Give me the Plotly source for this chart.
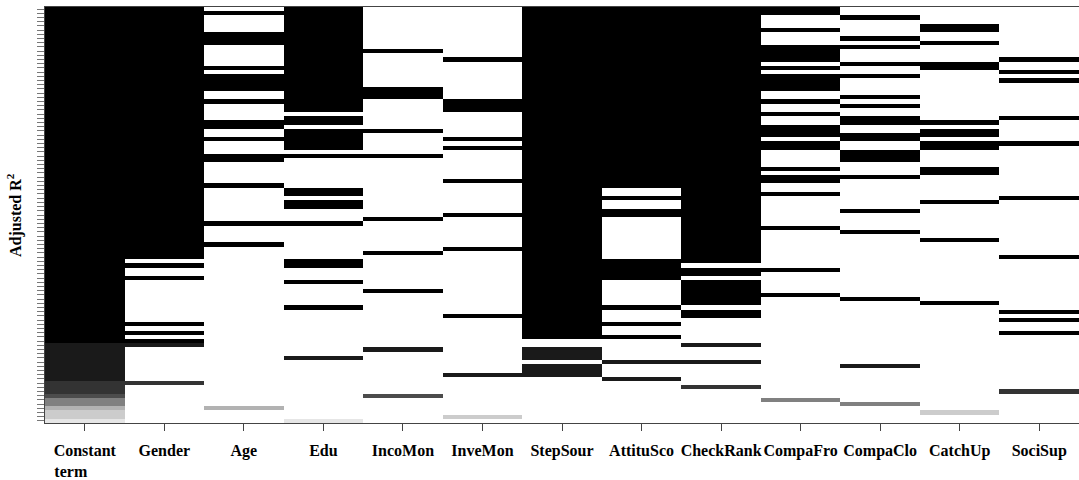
import numpy as np
import plotly.graph_objects as go

# Variables (columns) of the regsubsets plot
variables = ["Constant term", "Gender", "Age", "Edu", "IncoMon", "InveMon", "StepSour",
             "AttituSco", "CheckRank", "CompaFro", "CompaClo", "CatchUp", "SociSup"]

n_models = 99  # rows, ordered by adjusted R^2 (row 0 = highest, at top)

# Gray level of each model row (index into gray(0, .1, ..., .9)), read as runs from top to bottom
row_level_runs = [(0, 80), (1, 9), (2, 3), (3, 1), (5, 2), (7, 1), (8, 2), (9, 1)]

# Rows (from top) in which each variable is included
rows_constant = list(range(0, 99))
rows_gender = list(range(0, 60)) + [61, 64, 75, 77, 79, 80, 89]
rows_age = [1, 6, 7, 8, 14, 16, 17, 18, 19, 22, 27, 28, 31, 35, 36, 42, 51, 56, 95]
rows_edu = list(range(0, 25)) + [26, 27, 29, 30, 31, 32, 33, 35, 43, 44, 46, 47, 51, 60, 61, 65, 71, 83, 98]
rows_incomon = [10, 19, 20, 21, 29, 35, 50, 58, 67, 81, 92]
rows_invemon = [12, 22, 23, 24, 31, 33, 41, 49, 57, 73, 87, 97]
rows_stepsour = list(range(0, 79)) + [81, 82, 83, 85, 86, 87]
rows_attitusco = list(range(0, 43)) + [45, 48, 49, 60, 61, 62, 63, 64, 71, 75, 78, 84, 88]
rows_checkrank = list(range(0, 61)) + [62, 63, 65, 66, 67, 68, 69, 70, 72, 73, 80, 84, 90]
rows_compafro = [0, 1, 5, 9, 10, 11, 12, 14, 16, 17, 18, 19, 22, 25, 28, 29, 30, 32, 33,
                 38, 40, 41, 44, 52, 62, 68, 93]
rows_compaclo = [2, 7, 9, 13, 16, 21, 23, 26, 27, 30, 31, 34, 35, 36, 40, 48, 53, 69, 85, 94]
rows_catchup = [4, 5, 8, 13, 14, 27, 29, 30, 32, 33, 38, 39, 46, 55, 70, 96]
rows_socisup = [12, 15, 17, 26, 32, 45, 59, 72, 74, 77, 91]

included = [rows_constant, rows_gender, rows_age, rows_edu, rows_incomon, rows_invemon,
            rows_stepsour, rows_attitusco, rows_checkrank, rows_compafro, rows_compaclo,
            rows_catchup, rows_socisup]

row_level = []
for lvl, cnt in row_level_runs:
    row_level += [lvl] * cnt

z = np.full((n_models, len(variables)), np.nan)
for j, rows in enumerate(included):
    for r in rows:
        z[r, j] = row_level[r]

grays = ["#%02X%02X%02X" % ((round(25.5 * i),) * 3) for i in range(10)]
colorscale = [[i / 9, grays[i]] for i in range(10)]

fig = go.Figure(go.Heatmap(
    z=z, x=list(range(len(variables))), y=list(range(n_models)),
    colorscale=colorscale, zmin=0, zmax=9, showscale=False, hoverongaps=False,
))

pad = "\u00a0" * 7
ticktext = ["<b>Constant<br>term" + pad + "</b>"] + ["<b>%s</b>" % v for v in variables[1:]]

fig.update_layout(
    width=1079, height=480,
    margin=dict(l=45, r=0, t=7, b=57),
    plot_bgcolor="white", paper_bgcolor="white",
    font=dict(family="Liberation Serif", color="black"),
    xaxis=dict(
        tickvals=list(range(len(variables))), ticktext=ticktext,
        range=[-0.5, len(variables) - 0.5],
        ticks="outside", ticklen=7, tickcolor="#444", tickwidth=1,
        tickangle=0, automargin=False, ticklabelstandoff=6,
        showline=True, linecolor="#444", linewidth=1, mirror=True,
        showgrid=False, zeroline=False,
        tickfont=dict(family="Liberation Serif", size=16, color="black"),
    ),
    yaxis=dict(
        tickvals=list(range(n_models)), ticktext=[""] * n_models,
        range=[n_models - 0.5, -0.5],
        ticks="outside", ticklen=7, tickcolor="#777", tickwidth=1,
        automargin=False,
        showline=True, linecolor="#444", linewidth=1, mirror=True,
        showgrid=False, zeroline=False,
    ),
    annotations=[dict(
        text="<b>Adjusted R<sup>2</sup></b>", textangle=-90,
        xref="paper", yref="paper", x=-31 / 1034, y=0.5,
        xanchor="center", yanchor="middle", showarrow=False,
        font=dict(family="Liberation Serif", size=16, color="black"),
    )],
)

fig.write_html("out.html", config={"displayModeBar": False},
               post_script="document.body.style.margin='0px';")
